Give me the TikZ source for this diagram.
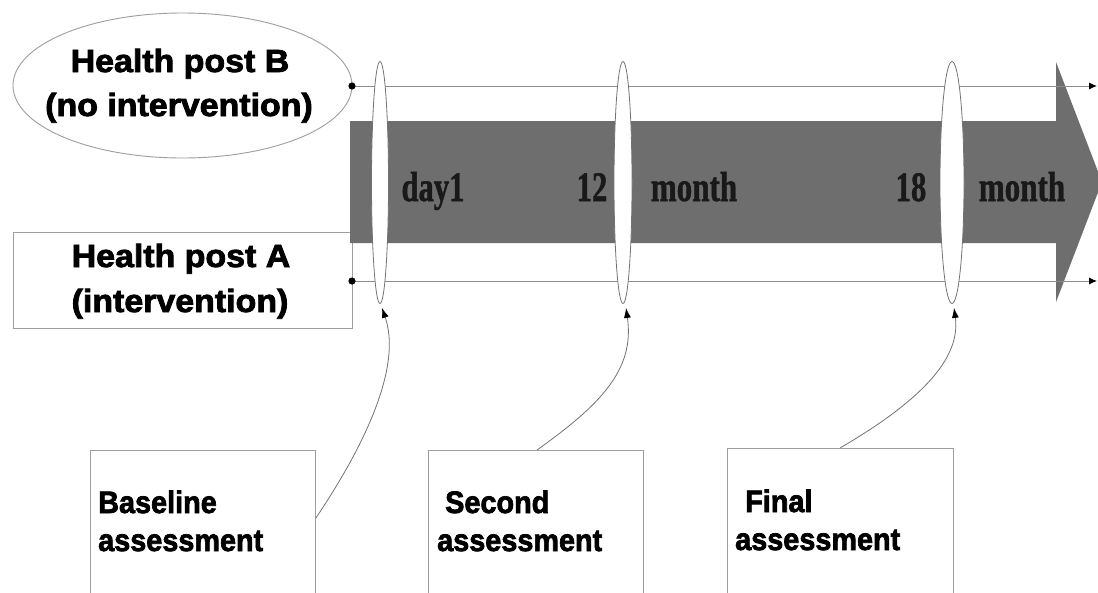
\documentclass[tikz,border=0pt]{standalone}
\usepackage{fontspec}
\usepackage{graphicx}
\setmainfont{Liberation Serif}[BoldFeatures={FakeBold=1.2}]
\newfontfamily\lsans{Liberation Sans}[BoldFeatures={FakeBold=2.4}]
\usetikzlibrary{shapes.geometric,arrows.meta}
\newcommand\hsc[2]{\scalebox{#1}[1]{#2}}
\definecolor{bandgray}{gray}{0.43}
\begin{document}
\begin{tikzpicture}[x=1pt,y=-1pt,
  outline/.style={draw=black!38, line width=0.9pt, fill=white, inner sep=0pt},
  lensshape/.style={ellipse, draw=black!55, line width=0.8pt, fill=white, inner sep=0pt},
  toplabel/.style={font=\lsans\bfseries\fontsize{32}{36}\selectfont, inner sep=0pt},
  boxlabel/.style={font=\lsans\bfseries\fontsize{31}{36}\selectfont, inner sep=0pt},
  bandlabel/.style={font=\bfseries\fontsize{42}{48}\selectfont, text=black!90, inner sep=0pt},
  tline/.style={draw=black!45, line width=0.9pt, -{Latex[length=8pt,width=7pt,black]}},
  conn/.style={draw=black!55, line width=0.8pt, -{Latex[length=10pt,width=7pt,black]}}
]
\clip (0,0) rectangle (1098,592);
\fill[white] (0,0) rectangle (1098,592);

% group labels
\node[outline, ellipse, minimum width=339pt, minimum height=145pt] (B) at (182.5,85.5) {};
\node[toplabel, anchor=base] (Bt1) at (180,72) {\hsc{1.06}{Health post B}};
\node[toplabel, anchor=base] (Bt2) at (179,116) {\hsc{1.06}{(no intervention)}};

\node[outline, anchor=north west, minimum width=339pt, minimum height=96pt] (A) at (13,232) {};
\node[toplabel, anchor=base] (At1) at (181,267) {\hsc{1.06}{Health post A}};
\node[toplabel, anchor=base] (At2) at (180,312) {\hsc{1.06}{(intervention)}};

% time band arrow
\fill[bandgray] (350,121) -- (1056,121) -- (1056,62) -- (1102,182) -- (1056,302) -- (1056,243) -- (350,243) -- cycle;

% group lines
\coordinate (tl0) at (352,86);
\coordinate (tl1) at (1097,86);
\coordinate (bl0) at (352,281);
\coordinate (bl1) at (1097,281);
\draw[tline] (tl0) -- (tl1);
\draw[tline] (bl0) -- (bl1);
\fill[black] (tl0) circle (3.6pt);
\fill[black] (bl0) circle (3.6pt);

% assessment lenses
\node[lensshape, minimum width=17pt, minimum height=242pt] (L1) at (380,182.5) {};
\node[lensshape, minimum width=18pt, minimum height=242pt] (L2) at (623,182.5) {};
\node[lensshape, minimum width=24pt, minimum height=242pt] (L3) at (952,182.5) {};

% band texts
\node[bandlabel, anchor=base] (d1) at (433,201) {\hsc{0.73}{day1}};
\node[bandlabel, anchor=base] (m12) at (592,201) {\hsc{0.73}{12}};
\node[bandlabel, anchor=base] (mo1) at (694,201) {\hsc{0.74}{month}};
\node[bandlabel, anchor=base] (m18) at (911,201) {\hsc{0.73}{18}};
\node[bandlabel, anchor=base] (mo2) at (1022,201) {\hsc{0.74}{month}};

% assessment boxes
\node[outline, anchor=north west, minimum width=225pt, minimum height=200pt] (BB1) at (90,450) {};
\node[outline, anchor=north west, minimum width=215pt, minimum height=200pt] (BB2) at (428,450) {};
\node[outline, anchor=north west, minimum width=226pt, minimum height=200pt] (BB3) at (727,448) {};

\node[boxlabel, anchor=base west] (b1a) at (98,513) {\hsc{0.93}{Baseline}};
\node[boxlabel, anchor=base west] (b1b) at (98,551) {\hsc{0.93}{assessment}};
\node[boxlabel, anchor=base west] (b2a) at (445,513) {\hsc{0.93}{Second}};
\node[boxlabel, anchor=base west] (b2b) at (437,551) {\hsc{0.93}{assessment}};
\node[boxlabel, anchor=base west] (b3a) at (745,512) {\hsc{0.93}{Final}};
\node[boxlabel, anchor=base west] (b3b) at (735,550) {\hsc{0.93}{assessment}};

% connectors
\draw[conn] ([yshift=-68pt]BB1.north east) .. controls (375,430) and (400,360) .. ([xshift=2pt,yshift=-4pt]L1.south);
\draw[conn] ([xshift=109pt]BB2.north west) .. controls (600,405) and (635,370) .. ([xshift=3pt,yshift=-4pt]L2.south);
\draw[conn] ([xshift=113pt]BB3.north west) .. controls (905,410) and (962,365) .. ([xshift=2pt,yshift=-4pt]L3.south);
\end{tikzpicture}
\end{document}
